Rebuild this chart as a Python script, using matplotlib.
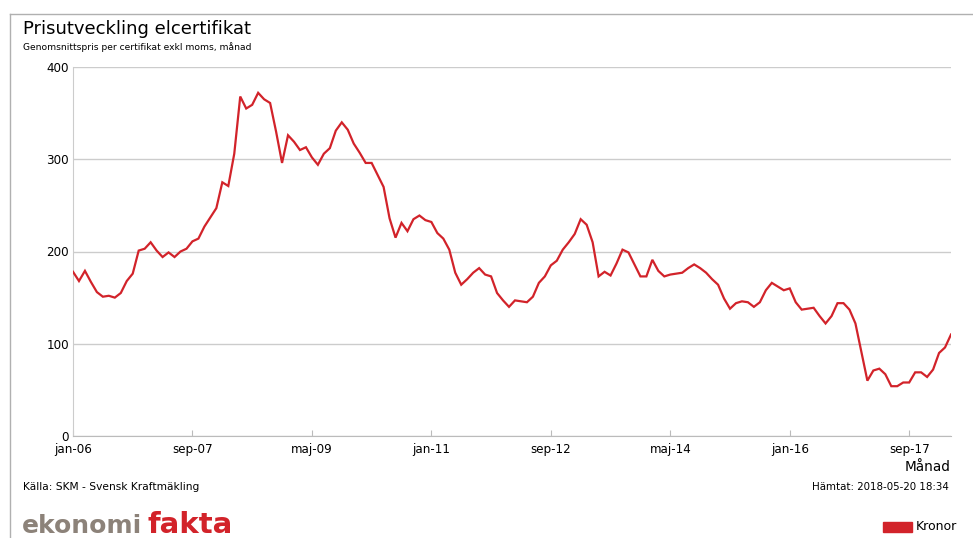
import numpy as np
import matplotlib
matplotlib.use('Agg')
import matplotlib.pyplot as plt
from matplotlib.patches import Rectangle
from matplotlib.lines import Line2D

# monthly average price per certificate, jan-06 .. apr-18 (kronor)
prices = [
    178, 168, 179, 167, 156, 151, 152, 150, 155, 168,
    176, 201, 203, 210, 201, 194, 199, 194, 200, 203,
    211, 214, 227, 237, 247, 275, 271, 306, 368, 355,
    359, 372, 365, 361, 330, 296, 326, 319, 310, 313,
    302, 294, 306, 312, 331, 340, 332, 317, 307, 296,
    296, 283, 270, 236, 215, 231, 222, 235, 239, 234,
    232, 220, 214, 202, 177, 164, 170, 177, 182, 175,
    173, 155, 147, 140, 147, 146, 145, 151, 166, 173,
    185, 190, 202, 210, 219, 235, 229, 210, 173, 178,
    174, 187, 202, 199, 186, 173, 173, 191, 179, 173,
    175, 176, 177, 182, 186, 182, 177, 170, 164, 149,
    138, 144, 146, 145, 140, 145, 158, 166, 162, 158,
    160, 145, 137, 138, 139, 130, 122, 130, 144, 144,
    137, 122, 91, 60, 71, 73, 67, 54, 54, 58,
    58, 69, 69, 64, 72, 90, 96, 110,
]
tick_pos = [0, 20, 40, 60, 80, 100, 120, 140]
tick_labels = ['jan-06', 'sep-07', 'maj-09', 'jan-11', 'sep-12', 'maj-14', 'jan-16', 'sep-17']
y_ticks = [0, 100, 200, 300, 400]

RED = '#d2232a'
W, H = 973, 538

fig = plt.figure(figsize=(W / 100, H / 100), dpi=100)
ax = fig.add_axes([73 / W, 1 - 436 / H, (951 - 73) / W, (436 - 67) / H])

x = np.arange(len(prices))
ax.plot(x, prices, color=RED, lw=1.6, solid_joinstyle='miter', zorder=3)

ax.set_xlim(0, 147)
ax.set_ylim(0, 400)
ax.set_yticks(y_ticks)
ax.set_xticks(tick_pos)
ax.set_xticklabels(tick_labels)
ax.grid(axis='y', color='#cccccc', lw=1)
ax.tick_params(axis='y', length=0, pad=3, labelsize=8.6)
ax.tick_params(axis='x', direction='in', length=4, color='#bbbbbb', pad=5, labelsize=8.6)
for s in ['top', 'right']:
    ax.spines[s].set_visible(False)
ax.spines['left'].set_color('#cccccc')
ax.spines['bottom'].set_color('#bbbbbb')

# outer frame (top and left edges)
fig.add_artist(Line2D([9.5 / W, 1], [1 - 13.5 / H] * 2, transform=fig.transFigure, color='#b0b0b0', lw=1))
fig.add_artist(Line2D([9.5 / W] * 2, [0, 1 - 13.5 / H], transform=fig.transFigure, color='#b0b0b0', lw=1))

def fy(py):
    return 1 - py / H

fig.text(23 / W, fy(29.5), 'Prisutveckling elcertifikat', fontsize=13, va='center', ha='left')
fig.text(23 / W, fy(47), 'Genomsnittspris per certifikat exkl moms, månad', fontsize=6.6, va='center', ha='left')
fig.text(950 / W, fy(467), 'Månad', fontsize=9.8, va='center', ha='right')
fig.text(23 / W, fy(487), 'Källa: SKM - Svensk Kraftmäkling', fontsize=7.7, va='center', ha='left')
fig.text(949 / W, fy(487), 'Hämtat: 2018-05-20 18:34', fontsize=7.4, va='center', ha='right')

# logo
fig.text(22 / W, fy(533), 'ekonomi', fontsize=18, color='#8c8279', fontweight='bold', va='baseline', ha='left')
fig.text(147 / W, fy(533), 'fakta', fontsize=21, color=RED, fontweight='bold', va='baseline', ha='left')

# legend
fig.add_artist(Rectangle((883 / W, fy(532)), 29 / W, 10 / H, transform=fig.transFigure, color=RED))
fig.text(916 / W, fy(527), 'Kronor', fontsize=9, va='center', ha='left')

fig.savefig('out.png', dpi=100)
